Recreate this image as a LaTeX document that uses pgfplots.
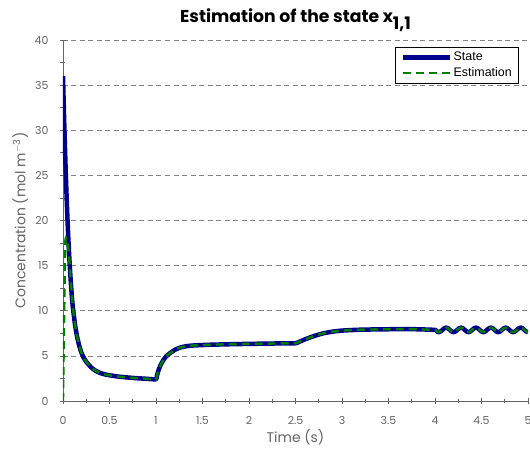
\documentclass[border=0pt]{standalone}
\usepackage{pgfplots}
\usepackage{pgfplotstable}
\pgfplotsset{compat=1.18}
\usepackage{fontspec}
\setmainfont{Poppins}
\newfontfamily\legfont{Liberation Sans}
\definecolor{stateblue}{RGB}{0,0,140}
\definecolor{estgreen}{RGB}{0,128,0}
\definecolor{axgray}{RGB}{100,100,100}
\definecolor{gridgray}{RGB}{130,130,130}

\pgfplotstableread{
t v
0 36
0.01 32
0.02 28.5
0.03 25.2
0.04 22.3
0.05 19.7
0.06 17.4
0.07 15.5
0.08 13.8
0.09 12.3
0.1 11.0
0.115 9.6
0.13 8.4
0.15 7.2
0.175 6.1
0.2 5.3
0.225 4.75
0.25 4.35
0.3 3.75
0.35 3.35
0.4 3.1
0.45 2.95
0.5 2.85
0.6 2.7
0.7 2.6
0.8 2.52
0.9 2.46
1.0 2.4
1.01 2.8
1.03 3.5
1.05 4.0
1.08 4.55
1.11 4.95
1.15 5.3
1.2 5.65
1.26 5.92
1.33 6.08
1.4 6.15
1.5 6.2
1.6 6.24
1.8 6.29
2.0 6.33
2.2 6.36
2.4 6.39
2.5 6.4
2.55 6.6
2.6 6.82
2.65 7.02
2.7 7.2
2.75 7.36
2.8 7.5
2.85 7.6
2.9 7.69
3.0 7.8
3.1 7.86
3.2 7.9
3.35 7.93
3.5 7.95
3.75 7.96
4.0 7.88
4.02 7.70
4.04 7.63
4.06 7.70
4.08 7.88
4.10 8.06
4.12 8.13
4.14 8.06
4.16 7.88
4.18 7.70
4.20 7.63
4.22 7.70
4.24 7.88
4.26 8.06
4.28 8.13
4.30 8.06
4.32 7.88
4.34 7.70
4.36 7.63
4.38 7.70
4.40 7.88
4.42 8.06
4.44 8.13
4.46 8.06
4.48 7.88
4.50 7.70
4.52 7.63
4.54 7.70
4.56 7.88
4.58 8.06
4.60 8.13
4.62 8.06
4.64 7.88
4.66 7.70
4.68 7.63
4.70 7.70
4.72 7.88
4.74 8.06
4.76 8.13
4.78 8.06
4.80 7.88
4.82 7.70
4.84 7.63
4.86 7.70
4.88 7.88
4.90 8.06
4.92 8.13
4.94 8.06
4.96 7.88
4.98 7.70
5.00 7.63
}\statetab

\pgfplotstableread{
t v
0 0
0.025 17.6
0.06 16.6
0.08 13.8
0.09 12.3
0.1 11.0
0.115 9.6
0.13 8.4
0.15 7.2
0.175 6.1
0.2 5.3
0.225 4.75
0.25 4.35
0.3 3.75
0.35 3.35
0.4 3.1
0.45 2.95
0.5 2.85
0.6 2.7
0.7 2.6
0.8 2.52
0.9 2.46
1.0 2.4
1.01 2.8
1.03 3.5
1.05 4.0
1.08 4.55
1.11 4.95
1.15 5.3
1.2 5.65
1.26 5.92
1.33 6.08
1.4 6.15
1.5 6.2
1.6 6.24
1.8 6.29
2.0 6.33
2.2 6.36
2.4 6.39
2.5 6.4
2.55 6.6
2.6 6.82
2.65 7.02
2.7 7.2
2.75 7.36
2.8 7.5
2.85 7.6
2.9 7.69
3.0 7.8
3.1 7.86
3.2 7.9
3.35 7.93
3.5 7.95
3.75 7.96
4.0 7.88
4.02 7.70
4.04 7.63
4.06 7.70
4.08 7.88
4.10 8.06
4.12 8.13
4.14 8.06
4.16 7.88
4.18 7.70
4.20 7.63
4.22 7.70
4.24 7.88
4.26 8.06
4.28 8.13
4.30 8.06
4.32 7.88
4.34 7.70
4.36 7.63
4.38 7.70
4.40 7.88
4.42 8.06
4.44 8.13
4.46 8.06
4.48 7.88
4.50 7.70
4.52 7.63
4.54 7.70
4.56 7.88
4.58 8.06
4.60 8.13
4.62 8.06
4.64 7.88
4.66 7.70
4.68 7.63
4.70 7.70
4.72 7.88
4.74 8.06
4.76 8.13
4.78 8.06
4.80 7.88
4.82 7.70
4.84 7.63
4.86 7.70
4.88 7.88
4.90 8.06
4.92 8.13
4.94 8.06
4.96 7.88
4.98 7.70
5.00 7.63
}\esttab

\begin{document}
\begin{tikzpicture}
\begin{axis}[
  scale only axis,
  width=465bp, height=361bp,
  xmin=0, xmax=5, ymin=0, ymax=40,
  xtick={0,0.5,...,5}, ytick={0,5,...,40},
  minor x tick num=1, minor y tick num=1,
  axis x line=bottom, axis y line=left,
  axis line style={-, draw=axgray, line width=0.8pt},
  tick style={draw=axgray, line width=0.7pt},
  tick align=center,
  major tick length=6bp, minor tick length=5bp,
  ymajorgrids,
  y grid style={dashed, gridgray, line width=0.6pt, dash pattern=on 5bp off 3.5bp},
  /pgf/number format/assume math mode=true,
  xticklabel style={font=\fontsize{11}{13}\selectfont, text=axgray, /pgf/number format/fixed, yshift=-9bp},
  yticklabel style={font=\fontsize{11}{13}\selectfont, text=axgray, xshift=-8bp},
  xlabel={Time (s)},
  ylabel={Concentration (mol m\textsuperscript{$-$3})},
  label style={font=\fontsize{14}{16}\selectfont, text=axgray},
  xlabel style={yshift=2bp},
  ylabel style={yshift=0bp},
  title={\textbf{Estimation of the state x\raisebox{-0.7ex}{1,1}}},
  title style={font=\fontsize{17.3}{19}\selectfont, yshift=-1bp},
  legend style={at={(0.98,0.981)}, anchor=north east, draw=black, line width=0.8pt,
    font=\legfont\fontsize{12.5}{15}\selectfont, inner xsep=5bp, inner ysep=3.5bp,
    nodes={inner sep=1.5bp}, row sep=2bp},
  legend cell align=left,
  legend image code/.code={\draw[#1] (0bp,0bp) -- (47bp,0bp);},
]
\addplot[stateblue, line width=4.5bp, line join=round, smooth, tension=0.3] table[x=t,y=v] {\statetab};
\addlegendentry{State}
\addplot[estgreen, line width=2.4bp, dash pattern=on 8bp off 5bp, smooth, tension=0.3] table[x=t,y=v] {\esttab};
\addlegendentry{Estimation}
\end{axis}
\pgfresetboundingbox
\path ([xshift=-63bp,yshift=-53bp]current axis.south west) rectangle ([xshift=2bp,yshift=40bp]current axis.north east);
\end{tikzpicture}
\end{document}
